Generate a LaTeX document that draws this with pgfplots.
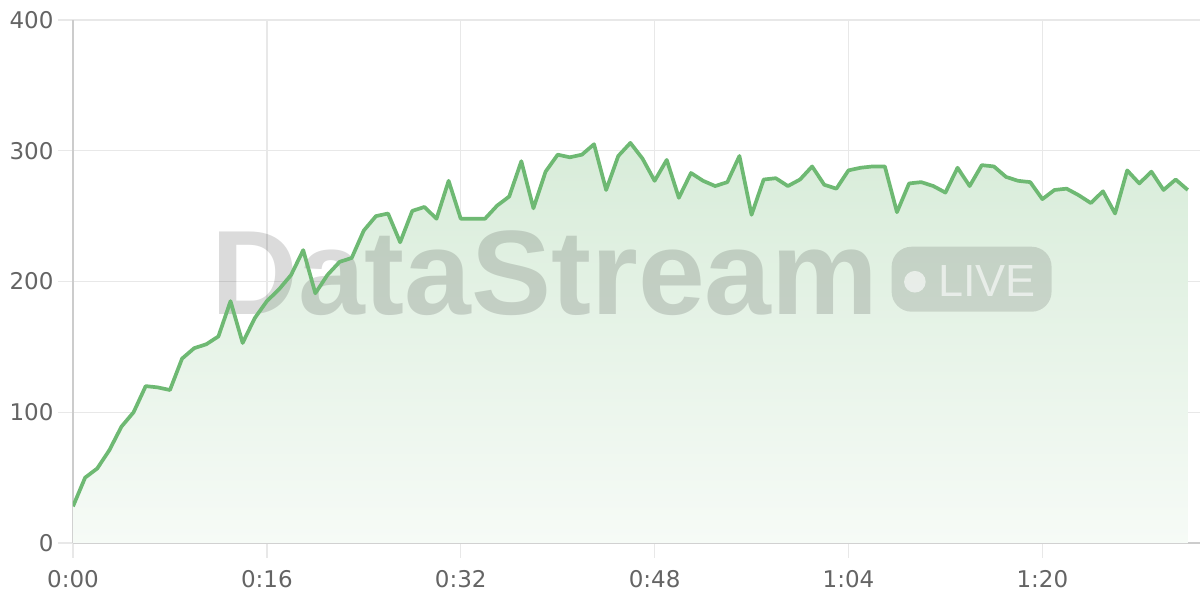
\documentclass[border=0pt]{standalone}
\usepackage{fontspec}
\setmainfont{Liberation Sans}
\newfontfamily\tickfont{DejaVu Sans}
\usepackage{pgfplots}
\usepackage{pgfplotstable}
\pgfplotsset{compat=1.18}

\definecolor{linegreen}{RGB}{110,185,115}
\definecolor{tickgray}{RGB}{100,100,100}

% one sample per second, 0:00 .. 1:32
\pgfplotstableread{
t v
0 28
1 50
2 57
3 71
4 89
5 100
6 120
7 119
8 117
9 141
10 149
11 152
12 158
13 185
14 153
15 172
16 185
17 194
18 205
19 224
20 191
21 205
22 215
23 218
24 239
25 250
26 252
27 230
28 254
29 257
30 248
31 277
32 248
33 248
34 248
35 258
36 265
37 292
38 256
39 284
40 297
41 295
42 297
43 305
44 270
45 296
46 306
47 294
48 277
49 293
50 264
51 283
52 277
53 273
54 276
55 296
56 251
57 278
58 279
59 273
60 278
61 288
62 274
63 271
64 285
65 287
66 288
67 288
68 253
69 275
70 276
71 273
72 268
73 287
74 273
75 289
76 288
77 280
78 277
79 276
80 263
81 270
82 271
83 266
84 260
85 269
86 252
87 285
88 275
89 284
90 270
91 278
92 270
}\rate

\begin{document}
\begin{tikzpicture}
\useasboundingbox (-73pt,-57pt) rectangle (1127pt,543pt);
\begin{axis}[
    scale only axis,
    width=1127pt, height=523pt,
    xmin=0, xmax=93,
    ymin=0, ymax=400,
    xtick={0,16,32,48,64,80},
    xticklabels={0:00,0:16,0:32,0:48,1:04,1:20},
    ytick={0,100,200,300,400},
    axis x line=bottom,
    axis y line=left,
    axis line style={-, black!20, line width=1.5pt},
    grid=major,
    major grid style={black!9, line width=1.5pt},
    tick align=outside,
    major tick length=15pt,
    tick style={black!9, line width=1.5pt},
    tick label style={font=\tickfont\fontsize{23}{27}\selectfont, text=tickgray},
    /pgf/number format/assume math mode=true,
    yticklabel style={xshift=-1pt},
    xticklabel style={yshift=-9pt},
]
\addplot[draw=none, top color=linegreen!27, bottom color=linegreen!6]
    table[x=t, y=v] {\rate} \closedcycle;

% watermark
\node[anchor=base, inner sep=0, text=black, text opacity=0.14,
      font=\fontsize{120}{120}\selectfont\bfseries]
    at (axis cs:38.95,175) {DataStream};
\fill[black, opacity=0.12, rounded corners=20pt]
    (axis cs:67.56,176.9) rectangle (axis cs:80.76,226.6);
\fill[white, opacity=0.6] (axis cs:69.48,199.8) circle[radius=10.8pt];
\node[anchor=base west, inner sep=0, text=white, text opacity=0.6,
      font=\fontsize{45}{45}\selectfont]
    at (axis cs:71.38,188.9) {LIVE};

\addplot[linegreen, line width=3.7pt, line join=round, mark=none]
    table[x=t, y=v] {\rate};
\end{axis}
\end{tikzpicture}
\end{document}
